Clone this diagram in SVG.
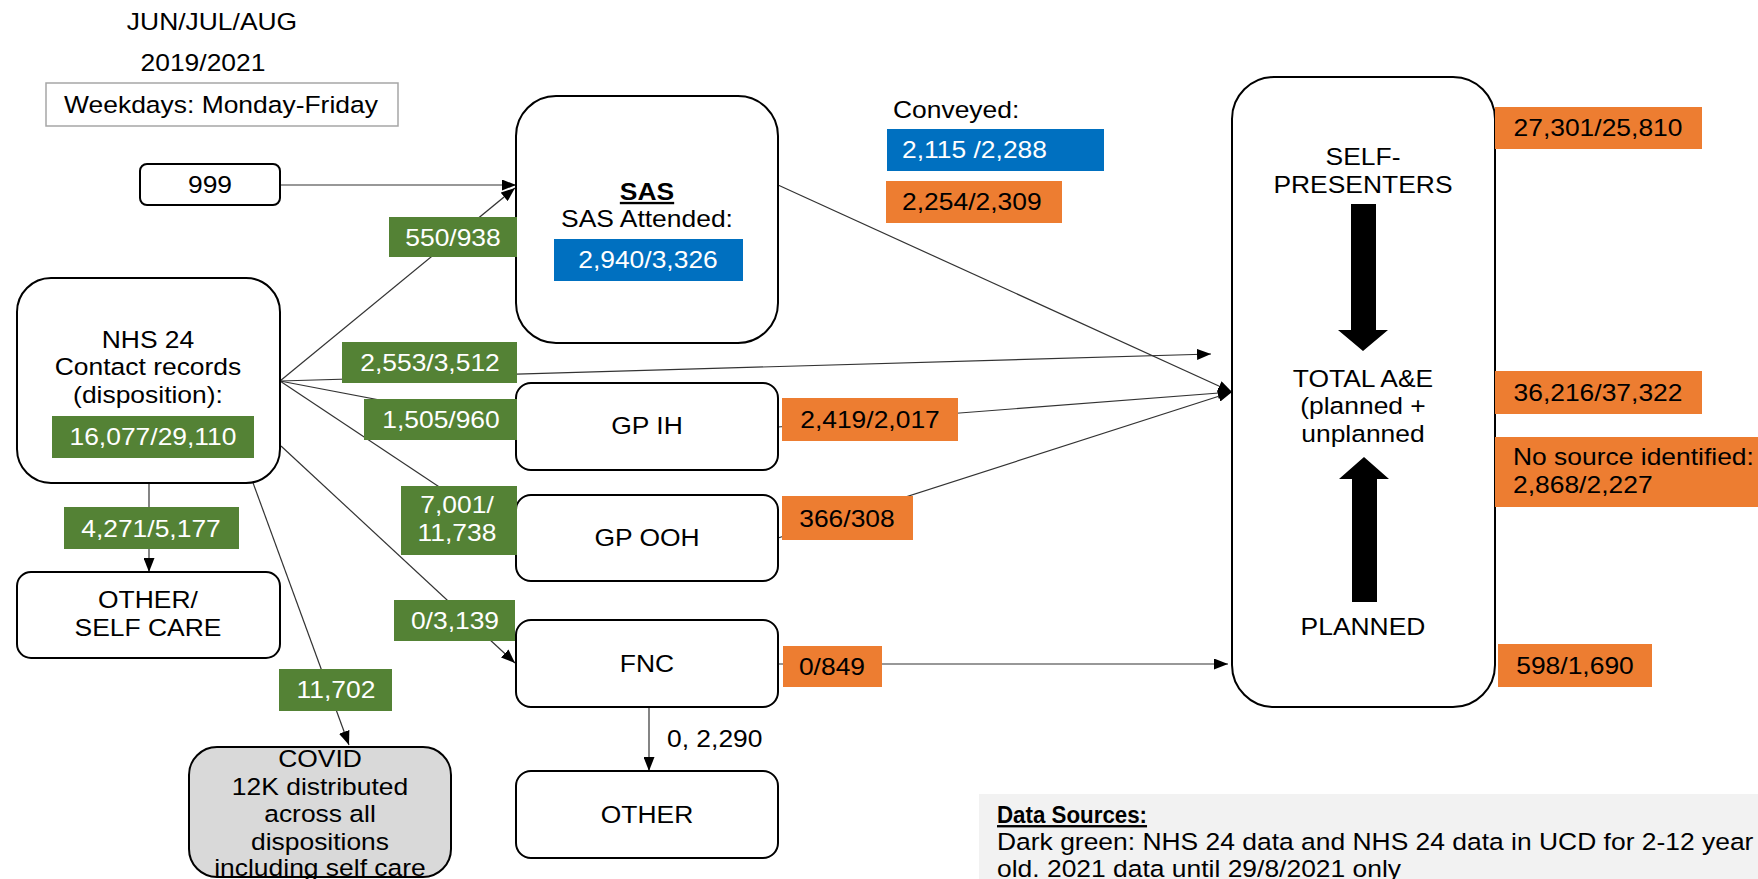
<svg xmlns="http://www.w3.org/2000/svg" width="1758" height="879" viewBox="0 0 1758 879">
<defs>
<marker id="ah" markerUnits="userSpaceOnUse" markerWidth="14" markerHeight="11" refX="14" refY="5.5" orient="auto" viewBox="0 0 14 11"><path d="M0,0 L14,5.5 L0,11 z" fill="#000"/></marker>
<style>
text { font-family: "Liberation Sans", Arial, sans-serif; font-size: 23.5px; fill: #000; text-anchor: middle; transform-box: fill-box; transform-origin: 50% 50%; transform: scaleX(1.125); }
text.l { text-anchor: start; transform-origin: 0% 50%; }
text.w { fill: #fff; }
text.bu { font-weight: bold; text-decoration: underline; }
text.ds { transform: scaleX(0.95); }
.node { fill: #fff; stroke: #000; stroke-width: 2; }
.g { fill: #548235; }
.b { fill: #0070c0; }
.o { fill: #ed7d31; }
#connectors line { stroke: #333; stroke-width: 1.2; fill: none; marker-end: url(#ah); }
</style>
</defs>
<rect width="1758" height="879" fill="#fff"/>

<g id="connectors">
<line x1="280" y1="185" x2="516" y2="185"/>
<line x1="280" y1="381" x2="515" y2="188"/>
<line x1="280" y1="381" x2="1211" y2="354"/>
<line x1="280" y1="381" x2="516" y2="426"/>
<line x1="280" y1="381" x2="516" y2="538"/>
<line x1="281" y1="446" x2="515" y2="663"/>
<line x1="149" y1="483" x2="149" y2="572"/>
<line x1="252" y1="480" x2="349" y2="745"/>
<line x1="778" y1="185" x2="1232" y2="392"/>
<line x1="778" y1="427" x2="1232" y2="392"/>
<line x1="778" y1="538" x2="1232" y2="392"/>
<line x1="778" y1="664" x2="1228" y2="664"/>
<line x1="649" y1="707" x2="649" y2="771"/>
</g>

<g id="title">
<text x="212" y="30">JUN/JUL/AUG</text>
<text x="203" y="71">2019/2021</text>
<rect x="46" y="83" width="352" height="43" fill="#fff" stroke="#a6a6a6" stroke-width="1.5"/>
<text x="221" y="113">Weekdays: Monday-Friday</text>
</g>

<g id="n999">
<rect class="node" x="140" y="164" width="140" height="41" rx="7"/>
<text x="210" y="193">999</text>
</g>

<g id="nhs24">
<rect class="node" x="17" y="278" width="263" height="205" rx="34"/>
<text x="148" y="348">NHS 24</text>
<text x="148" y="375">Contact records</text>
<text x="148" y="403">(disposition):</text>
<rect class="g" x="52" y="416" width="202" height="42"/>
<text class="w" x="153" y="445">16,077/29,110</text>
</g>

<g id="selfcare">
<rect class="node" x="17" y="572" width="263" height="86" rx="14"/>
<text x="148" y="608">OTHER/</text>
<text x="148" y="636">SELF CARE</text>
</g>

<g id="covid">
<rect x="189" y="747" width="262" height="130" rx="28" fill="#d9d9d9" stroke="#000" stroke-width="2"/>
<text x="320" y="767">COVID</text>
<text x="320" y="795">12K distributed</text>
<text x="320" y="822">across all</text>
<text x="320" y="850">dispositions</text>
<text x="320" y="876">including self care</text>
</g>

<g id="sas">
<rect class="node" x="516" y="96" width="262" height="247" rx="40"/>
<text class="bu" x="647" y="200">SAS</text>
<text x="647" y="227">SAS Attended:</text>
<rect class="b" x="554" y="239" width="189" height="42"/>
<text class="w" x="648" y="268">2,940/3,326</text>
</g>

<g id="gpih">
<rect class="node" x="516" y="383" width="262" height="87" rx="15"/>
<text x="647" y="434">GP IH</text>
</g>

<g id="gpooh">
<rect class="node" x="516" y="495" width="262" height="86" rx="15"/>
<text x="647" y="546">GP OOH</text>
</g>

<g id="fnc">
<rect class="node" x="516" y="620" width="262" height="87" rx="15"/>
<text x="647" y="672">FNC</text>
</g>

<g id="other">
<rect class="node" x="516" y="771" width="262" height="87" rx="15"/>
<text x="647" y="823">OTHER</text>
</g>

<g id="ae">
<rect class="node" x="1232" y="77" width="263" height="630" rx="42"/>
<text x="1363" y="165">SELF-</text>
<text x="1363" y="193">PRESENTERS</text>
<path d="M1351,204 H1376 V330 H1388 L1363,351 L1338,330 H1351 Z" fill="#000"/>
<text x="1363" y="387">TOTAL A&amp;E</text>
<text x="1363" y="414">(planned +</text>
<text x="1363" y="442">unplanned</text>
<path d="M1364,457 L1389,479 H1377 V602 H1352 V479 H1339 Z" fill="#000"/>
<text x="1363" y="635">PLANNED</text>
</g>

<g id="labels">
<rect class="g" x="389" y="217" width="128" height="40"/>
<text class="w" x="453" y="246">550/938</text>
<rect class="g" x="342" y="342" width="175" height="41"/>
<text class="w" x="430" y="371">2,553/3,512</text>
<rect class="g" x="364" y="399" width="153" height="41"/>
<text class="w" x="441" y="428">1,505/960</text>
<rect class="g" x="401" y="486" width="116" height="69"/>
<text class="w" x="457" y="513">7,001/</text>
<text class="w" x="457" y="541">11,738</text>
<rect class="g" x="394" y="600" width="121" height="41"/>
<text class="w" x="455" y="629">0/3,139</text>
<rect class="g" x="64" y="507" width="175" height="42"/>
<text class="w" x="151" y="537">4,271/5,177</text>
<rect class="g" x="279" y="669" width="113" height="42"/>
<text class="w" x="336" y="698">11,702</text>

<text class="l" x="893" y="118">Conveyed:</text>
<rect class="b" x="887" y="129" width="217" height="42"/>
<text class="w l" x="902" y="158">2,115 /2,288</text>
<rect class="o" x="886" y="181" width="176" height="42"/>
<text class="l" x="902" y="210">2,254/2,309</text>

<rect class="o" x="782" y="398" width="176" height="43"/>
<text x="870" y="428">2,419/2,017</text>
<rect class="o" x="782" y="496" width="131" height="44"/>
<text x="847" y="527">366/308</text>
<rect class="o" x="783" y="646" width="99" height="41"/>
<text x="832" y="675">0/849</text>
<text class="l" x="667" y="747">0, 2,290</text>

<rect class="o" x="1495" y="107" width="207" height="42"/>
<text x="1598" y="136">27,301/25,810</text>
<rect class="o" x="1495" y="371" width="207" height="43"/>
<text x="1598" y="401">36,216/37,322</text>
<rect class="o" x="1495" y="437" width="280" height="70"/>
<text class="l" x="1513" y="465">No source identified:</text>
<text class="l" x="1513" y="493">2,868/2,227</text>
<rect class="o" x="1498" y="644" width="154" height="43"/>
<text x="1575" y="674">598/1,690</text>
</g>

<g id="datasources">
<rect x="979" y="794" width="800" height="100" fill="#f2f2f2"/>
<text class="l bu ds" x="997" y="823">Data Sources:</text>
<text class="l" x="997" y="850">Dark green: NHS 24 data and NHS 24 data in UCD for 2-12 year</text>
<text class="l" x="997" y="877">old. 2021 data until 29/8/2021 only</text>
</g>
</svg>
